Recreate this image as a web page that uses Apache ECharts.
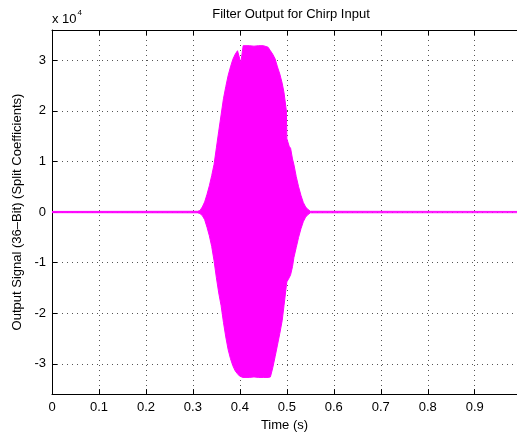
<!DOCTYPE html>
<html>
<head>
<meta charset="utf-8">
<script src="https://cdn.jsdelivr.net/npm/echarts@6/dist/echarts.min.js"></script>
<style>html,body{margin:0;padding:0;background:#fff;}#c{width:517px;height:437px;}</style>
</head>
<body>
<div id="c"></div>
<script>
// Envelope of the filter output (values in raw units; axis shows x 10^4)
const time  = [0.000, 0.310, 0.315, 0.320, 0.325, 0.330, 0.335, 0.340, 0.345, 0.350, 0.355, 0.360, 0.365, 0.370, 0.375, 0.380, 0.385, 0.390, 0.395, 0.399, 0.402, 0.406, 0.407, 0.420, 0.430, 0.440, 0.450, 0.460, 0.465, 0.470, 0.475, 0.480, 0.485, 0.490, 0.494, 0.499, 0.500, 0.505, 0.508, 0.512, 0.515, 0.520, 0.525, 0.530, 0.535, 0.540, 0.545, 0.550, 0.990];
const upper = [120, 150, 300, 1000, 2000, 3500, 5200, 7200, 9400, 12700, 16000, 19200, 22400, 24800, 27000, 28700, 30200, 31200, 31900, 32100, 29500, 29500, 32900, 32900, 32800, 32900, 32900, 32600, 31900, 31200, 30300, 28700, 27300, 25500, 23600, 20000, 14500, 13000, 12600, 10500, 9400, 7000, 5000, 3300, 1900, 1000, 500, 150, 120];
const lower = [-120, -150, -300, -700, -1500, -3000, -4700, -6800, -9600, -13000, -16000, -18500, -21800, -24700, -27200, -29000, -30400, -31400, -32000, -32400, -32600, -32700, -32700, -32700, -32600, -32700, -32700, -32700, -32600, -30800, -28600, -26300, -24000, -21500, -18500, -14500, -13800, -13000, -12400, -10800, -9000, -7000, -5000, -3300, -1900, -1000, -500, -150, -120];
const xTicksMax = 0.99;
const yLimit = 36000;
const titleText = 'Filter Output for Chirp Input';
const xName = 'Time (s)';
const yName = 'Output Signal (36\u2013Bit) (Split Coefficients)';

const FONT = 'Liberation Sans, Arial, Helvetica, sans-serif';
const FS = 13;
const MAG = '#ff00ff';
const upData = time.map((t, i) => [t, upper[i]]);
const loData = time.map((t, i) => [t, lower[i]]);

const chart = echarts.init(document.getElementById('c'), null, {renderer: 'canvas'});
const gridLine = {show: true, lineStyle: {color: '#555', type: [1, 4], width: 1}};
chart.setOption({
  animation: false,
  backgroundColor: '#fff',
  title: {
    text: titleText, left: 286, top: 3, textAlign: 'center',
    textStyle: {fontFamily: FONT, fontSize: FS, fontWeight: 'normal', color: '#000'}
  },
  graphic: [{
    type: 'text', left: 52, top: 9,
    style: {
      text: '{a|x 10}{b|4}',
      rich: {
        a: {fontFamily: FONT, fontSize: FS, fill: '#000', verticalAlign: 'bottom', lineHeight: 15},
        b: {fontFamily: FONT, fontSize: 8, fill: '#000', verticalAlign: 'top', padding: [0, 0, 9, 1]}
      }
    }
  }],
  grid: {left: 52, right: 0, top: 30, bottom: 38, containLabel: false},
  xAxis: [{
    type: 'value', min: 0, max: xTicksMax, interval: 0.1,
    name: xName, nameLocation: 'middle', nameGap: 21,
    nameTextStyle: {fontFamily: FONT, fontSize: FS, color: '#000'},
    axisLine: {show: true, onZero: false, lineStyle: {color: '#000', width: 1}},
    axisTick: {show: true, inside: true, length: 5, lineStyle: {color: '#000'}},
    axisLabel: {fontFamily: FONT, fontSize: FS, color: '#000', margin: 7, showMaxLabel: false,
      formatter: v => (Math.abs(v - Math.round(v * 10) / 10) < 1e-9 ? (v === 0 ? '0' : v.toFixed(1)) : '')},
    splitLine: gridLine
  }, {
    type: 'value', position: 'top', min: 0, max: xTicksMax, interval: 0.1,
    axisLine: {show: true, onZero: false, lineStyle: {color: '#000', width: 1}},
    axisTick: {show: true, inside: true, length: 5, lineStyle: {color: '#000'}},
    axisLabel: {show: false}, splitLine: {show: false}
  }],
  yAxis: [{
    type: 'value', min: -yLimit, max: yLimit, splitNumber: 7,
    name: yName, nameLocation: 'middle', nameGap: 28,
    nameTextStyle: {fontFamily: FONT, fontSize: FS, color: '#000'},
    axisLine: {show: true, onZero: false, lineStyle: {color: '#000', width: 1}},
    axisTick: {show: true, inside: true, length: 5, lineStyle: {color: '#000'}},
    axisLabel: {fontFamily: FONT, fontSize: FS, color: '#000', margin: 6, showMinLabel: false, showMaxLabel: false,
      formatter: v => (v % 10000 === 0 ? String(v / 10000) : '')},
    splitLine: gridLine
  }],
  series: [{
    type: 'line', data: upData, xAxisIndex: 0, yAxisIndex: 0, showSymbol: false, symbol: 'none',
    lineStyle: {color: MAG, width: 1}, itemStyle: {color: MAG},
    areaStyle: {color: MAG, opacity: 1, origin: 0}, z: 3
  }, {
    type: 'line', data: loData, xAxisIndex: 0, yAxisIndex: 0, showSymbol: false, symbol: 'none',
    lineStyle: {color: MAG, width: 1}, itemStyle: {color: MAG},
    areaStyle: {color: MAG, opacity: 1, origin: 0}, z: 3
  }]
});
</script>
</body>
</html>
